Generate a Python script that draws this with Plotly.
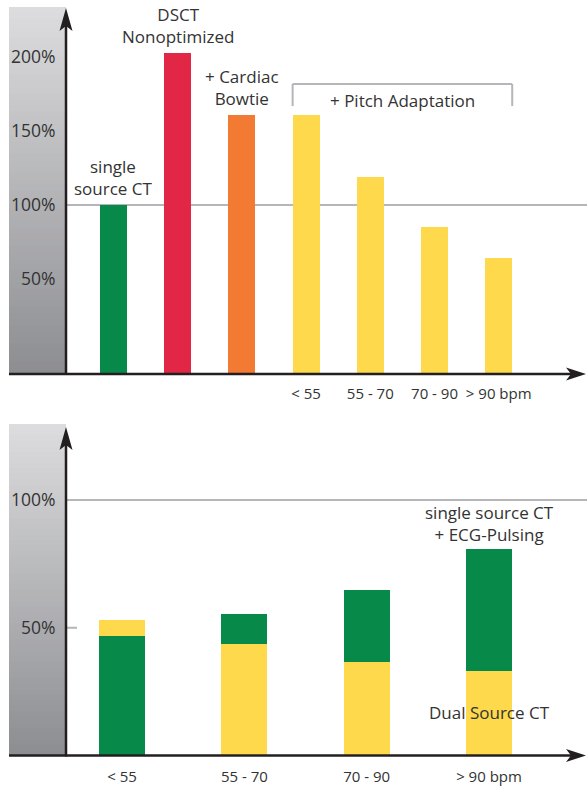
import numpy as np
import plotly.graph_objects as go

# ---------------- data ----------------
top_categories = ["single source CT", "DSCT Nonoptimized", "+ Cardiac Bowtie",
                  "< 55", "55 - 70", "70 - 90", "> 90 bpm"]
top_values = [100, 203, 161, 161, 119, 85, 64]
top_tick_text = ["", "", "", "< 55", "55 - 70", "70 - 90", "> 90 bpm"]
top_bar_labels = ["single<br>source CT", "DSCT<br>Nonoptimized", "+ Cardiac<br>Bowtie"]
top_yticks = [50, 100, 150, 200]
pitch_label = "+ Pitch Adaptation"

bottom_categories = ["< 55", "55 - 70", "70 - 90", "> 90 bpm"]
dual_source = [53.0, 43.6, 36.6, 33.1]
single_source_ecg = [46.8, 55.4, 64.8, 80.8]
bottom_yticks = [50, 100]
single_label = "single source CT<br>+ ECG-Pulsing"
dual_label = "Dual Source CT"

# ---------------- style ----------------
W, H = 587, 786
GREEN, RED, ORANGE, YELLOW = "#07894a", "#e12646", "#f37a32", "#fdd94b"
top_colors = [GREEN, RED, ORANGE, YELLOW, YELLOW, YELLOW, YELLOW]
GRID = "#b5b5ba"
AXC = "#231f20"
TXT = "#333333"
FONT = "Open Sans"


def px(x):
    return x / W


def py(y):
    return 1 - y / H


# panel geometry (pixels)
AX_X = 66
TOP_BASE, TOP_TIP, TOP_ZERO, TOP_PPU = 374, 8, 353, 1.48
BOT_BASE, BOT_TIP, BOT_ZERO, BOT_PPU = 755.5, 427, 755.5, 2.555

top_range = [(TOP_ZERO - TOP_BASE) / TOP_PPU, (TOP_ZERO - TOP_TIP) / TOP_PPU]
bot_range = [(BOT_ZERO - BOT_BASE) / BOT_PPU, (BOT_ZERO - BOT_TIP) / BOT_PPU]

fig = go.Figure()

# top bars
base_top = top_range[0]
fig.add_trace(go.Bar(
    x=top_categories, y=np.array(top_values) - base_top, base=base_top,
    marker=dict(color=top_colors, line=dict(width=0)), width=0.42,
    xaxis="x", yaxis="y", hoverinfo="skip"))

# bottom bars (overlaid: larger value behind, smaller in front)
d = np.array(dual_source)
s = np.array(single_source_ecg)
back = np.maximum(d, s)
front = np.minimum(d, s)
back_colors = [GREEN if si >= di else YELLOW for si, di in zip(s, d)]
front_colors = [YELLOW if si >= di else GREEN for si, di in zip(s, d)]
fig.add_trace(go.Bar(x=bottom_categories, y=back, marker=dict(color=back_colors, line=dict(width=0)),
                     width=0.376, xaxis="x2", yaxis="y2", hoverinfo="skip"))
fig.add_trace(go.Bar(x=bottom_categories, y=front, marker=dict(color=front_colors, line=dict(width=0)),
                     width=0.376, xaxis="x2", yaxis="y2", hoverinfo="skip"))

shapes = []

# gray gradient bands
def band(y_top, y_bot, n=60):
    c0 = np.array([221, 221, 223])
    c1 = np.array([141, 142, 146])
    h = (y_bot - y_top) / n
    for i in range(n):
        t = (i + 0.5) / n
        c = (c0 + (c1 - c0) * t).astype(int)
        y1 = y_top + (i + 1) * h + (2.0 if i < n - 1 else 0)
        shapes.append(dict(type="rect", xref="paper", yref="paper",
                           x0=px(9), x1=px(AX_X), y0=py(y_top + i * h), y1=py(y1),
                           fillcolor=f"rgb({c[0]},{c[1]},{c[2]})", line=dict(width=0), layer="below"))

band(7, TOP_BASE)
band(424, BOT_BASE)

# gridlines at 100%
shapes.append(dict(type="line", xref="paper", yref="y", x0=px(AX_X), x1=1, y0=100, y1=100,
                   line=dict(color=GRID, width=2), layer="below"))
shapes.append(dict(type="line", xref="paper", yref="y2", x0=px(AX_X), x1=1, y0=100, y1=100,
                   line=dict(color=GRID, width=2), layer="below"))
# small tick at 50% (bottom)
shapes.append(dict(type="line", xref="paper", yref="y2", x0=px(AX_X), x1=px(77), y0=50, y1=50,
                   line=dict(color=GRID, width=2), layer="below"))

# axes with arrows
def axes(base, tip):
    shapes.append(dict(type="line", xref="paper", yref="paper", x0=px(AX_X), x1=px(AX_X),
                       y0=py(base + 1), y1=py(tip + 14), line=dict(color=AXC, width=2.5)))
    shapes.append(dict(type="line", xref="paper", yref="paper", x0=px(9), x1=px(574),
                       y0=py(base), y1=py(base), line=dict(color=AXC, width=2.5)))
    # vertical arrowhead
    p = [(AX_X, tip), (AX_X - 6.5, tip + 23), (AX_X, tip + 18), (AX_X + 6.5, tip + 23)]
    path = "M " + " L ".join(f"{px(a)},{py(b)}" for a, b in p) + " Z"
    shapes.append(dict(type="path", xref="paper", yref="paper", path=path,
                       fillcolor=AXC, line=dict(width=0)))
    # horizontal arrowhead
    p = [(586, base), (566, base - 6.5), (571, base), (566, base + 6.5)]
    path = "M " + " L ".join(f"{px(a)},{py(b)}" for a, b in p) + " Z"
    shapes.append(dict(type="path", xref="paper", yref="paper", path=path,
                       fillcolor=AXC, line=dict(width=0)))

axes(TOP_BASE, TOP_TIP)
axes(BOT_BASE, BOT_TIP)

# pitch adaptation bracket
bw = 0.42
xl, xr = 3 - bw / 2, 6 + bw / 2
for sh in [dict(x0=xl, x1=xr, y0=py(84), y1=py(84)),
           dict(x0=xl, x1=xl, y0=py(84), y1=py(106)),
           dict(x0=xr, x1=xr, y0=py(84), y1=py(106))]:
    shapes.append(dict(type="line", xref="x", yref="paper", line=dict(color=GRID, width=2), **sh))

annotations = []
for cat, val, lab in zip(top_categories[:3], top_values[:3], top_bar_labels):
    annotations.append(dict(x=cat, y=val, xref="x", yref="y", text=lab, showarrow=False,
                            yanchor="bottom", yshift=3, font=dict(size=17, color=TXT, family=FONT)))
annotations.append(dict(x=4.5, y=py(100), xref="x", yref="paper", text=pitch_label, showarrow=False,
                        yanchor="middle", font=dict(size=17, color=TXT, family=FONT)))
annotations.append(dict(x=bottom_categories[-1], y=float(back[-1]), xref="x2", yref="y2", text=single_label,
                        showarrow=False, yanchor="bottom", yshift=1,
                        font=dict(size=17, color=TXT, family=FONT)))
annotations.append(dict(x=bottom_categories[-1], y=py(712), xref="x2", yref="paper", text=dual_label,
                        showarrow=False, yanchor="middle", font=dict(size=17, color=TXT, family=FONT)))

tickfont_y = dict(size=17.5, color=TXT, family=FONT)
tickfont_x = dict(size=15, color=TXT, family=FONT)

fig.update_layout(
    width=W, height=H, margin=dict(l=0, r=0, t=0, b=0),
    paper_bgcolor="white", plot_bgcolor="rgba(0,0,0,0)",
    showlegend=False, barmode="overlay", bargap=0,
    font=dict(family=FONT, color=TXT),
    shapes=shapes, annotations=annotations,
    xaxis=dict(domain=[px(AX_X), 1], anchor="y", type="category",
               categoryorder="array", categoryarray=top_categories,
               range=[-0.74, 7.375], tickmode="array", tickvals=top_categories, ticktext=top_tick_text,
               ticks="outside", ticklen=6, tickcolor="rgba(0,0,0,0)", tickfont=tickfont_x,
               showgrid=False, zeroline=False, showline=False, automargin=False, fixedrange=True),
    yaxis=dict(domain=[py(TOP_BASE), py(TOP_TIP)], anchor="x", range=top_range,
               tickmode="array", tickvals=top_yticks, ticktext=[f"{v}%" for v in top_yticks],
               ticks="outside", ticklen=6, tickcolor="rgba(0,0,0,0)", tickfont=tickfont_y,
               showgrid=False, zeroline=False, showline=False, automargin=False, fixedrange=True),
    xaxis2=dict(domain=[px(AX_X), 1], anchor="y2", type="category",
                categoryorder="array", categoryarray=bottom_categories,
                range=[-0.458, 3.801], tickmode="array", tickvals=bottom_categories, ticktext=bottom_categories,
                ticks="outside", ticklen=7, tickcolor="rgba(0,0,0,0)", tickfont=tickfont_x,
                showgrid=False, zeroline=False, showline=False, automargin=False, fixedrange=True),
    yaxis2=dict(domain=[py(BOT_BASE), py(BOT_TIP)], anchor="x2", range=bot_range,
                tickmode="array", tickvals=bottom_yticks, ticktext=[f"{v}%" for v in bottom_yticks],
                ticks="outside", ticklen=6, tickcolor="rgba(0,0,0,0)", tickfont=tickfont_y,
                showgrid=False, zeroline=False, showline=False, automargin=False, fixedrange=True),
)

fig.write_html("out.html", config={"displayModeBar": False})
